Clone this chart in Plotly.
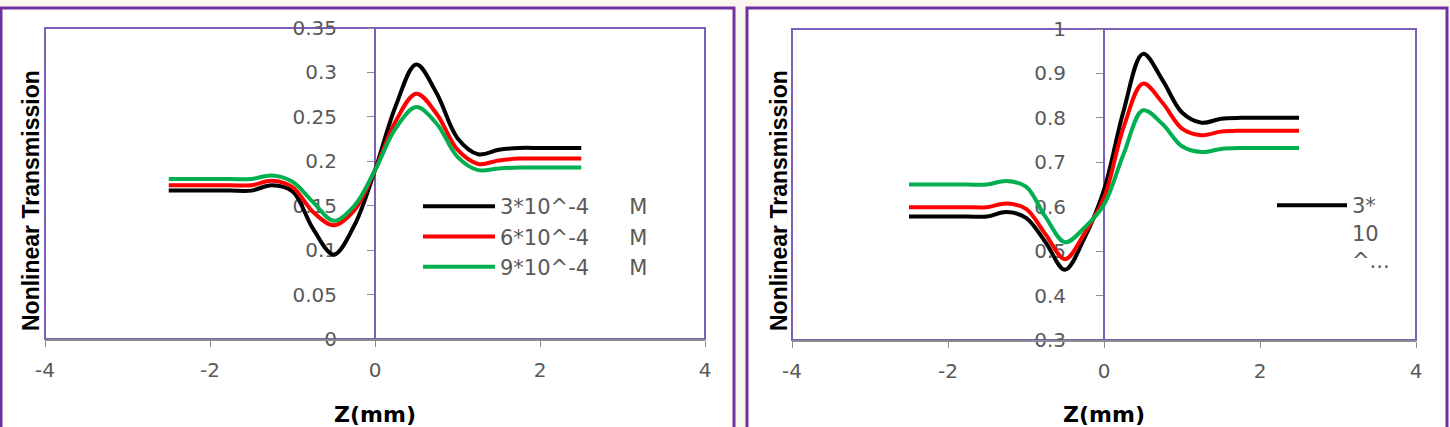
import plotly.graph_objects as go

# ---------------- data ----------------
z = [-2.5, -2.25, -2.0, -1.75, -1.5, -1.25, -1.0, -0.75, -0.5, -0.25, 0.0,
     0.25, 0.5, 0.75, 1.0, 1.25, 1.5, 1.75, 2.0, 2.25, 2.5]

NB = "\u00a0"
series_names = ["3*10^-4" + NB * 6 + "M", "6*10^-4" + NB * 6 + "M", "9*10^-4" + NB * 6 + "M"]
series_colors = ["#000000", "#FF0000", "#00B050"]

# left panel
left_c3 = [0.167, 0.167, 0.167, 0.167, 0.167, 0.173, 0.166, 0.124, 0.095, 0.128, 0.190,
           0.262, 0.309, 0.276, 0.226, 0.208, 0.213, 0.215, 0.215, 0.215, 0.215]
left_c6 = [0.173, 0.173, 0.173, 0.173, 0.173, 0.178, 0.171, 0.143, 0.128, 0.145, 0.190,
           0.245, 0.276, 0.253, 0.213, 0.197, 0.201, 0.203, 0.203, 0.203, 0.203]
left_c9 = [0.180, 0.180, 0.180, 0.180, 0.180, 0.184, 0.177, 0.154, 0.133, 0.150, 0.190,
           0.237, 0.261, 0.242, 0.205, 0.190, 0.192, 0.193, 0.193, 0.193, 0.193]

# right panel
right_c3 = [0.578, 0.578, 0.578, 0.578, 0.578, 0.588, 0.575, 0.520, 0.458, 0.530, 0.638,
            0.815, 0.944, 0.885, 0.812, 0.789, 0.798, 0.800, 0.800, 0.800, 0.800]
right_c6 = [0.599, 0.599, 0.599, 0.599, 0.599, 0.607, 0.595, 0.538, 0.482, 0.540, 0.620,
            0.778, 0.877, 0.834, 0.776, 0.761, 0.769, 0.771, 0.771, 0.771, 0.771]
right_c9 = [0.650, 0.650, 0.650, 0.650, 0.650, 0.658, 0.645, 0.577, 0.520, 0.553, 0.605,
            0.718, 0.817, 0.786, 0.736, 0.723, 0.730, 0.732, 0.732, 0.732, 0.732]

left_ticks_y = [0, 0.05, 0.1, 0.15, 0.2, 0.25, 0.3, 0.35]
right_ticks_y = [0.3, 0.4, 0.5, 0.6, 0.7, 0.8, 0.9, 1]
x_ticks = [-4, -2, 0, 2, 4]
x_tick_text = ["-4", "-2", "0", "2", "4"]

# ---------------- figure ----------------
W, H = 1450, 427
fig = go.Figure()

TICK_FONT = dict(family="DejaVu Sans", size=20, color="#595959")
LEG_FONT = dict(family="DejaVu Sans", size=21, color="#595959")
PURPLE_OUT = "#7030A0"
PURPLE_IN = "#7B5FB8"
GRAY = "#8C8C8C"

for i, ys in enumerate([left_c3, left_c6, left_c9]):
    fig.add_trace(go.Scatter(
        x=z, y=ys, mode="lines", name=series_names[i],
        line=dict(color=series_colors[i], width=4, shape="spline", smoothing=1.0),
        xaxis="x", yaxis="y", legend="legend", legendgroup="L%d" % i,
        hoverinfo="skip"))

right_legend_names = ["3*<br>10<br>^...", "6*10^-4 M", "9*10^-4 M"]
for i, ys in enumerate([right_c3, right_c6, right_c9]):
    fig.add_trace(go.Scatter(
        x=z, y=ys, mode="lines", name=right_legend_names[i],
        line=dict(color=series_colors[i], width=4, shape="spline", smoothing=1.0),
        xaxis="x2", yaxis="y2", legend="legend2", showlegend=(i == 0),
        hoverinfo="skip"))

def px_x(p):
    return p / W

def px_y(p):
    return 1 - p / H

# subplot geometry (pixels)
L_x0, L_x1, L_ytop, L_ybot = 45, 705, 28, 339
R_x0, R_x1, R_ytop, R_ybot = 792, 1416, 29, 340

common_x = dict(range=[-4, 4], tickvals=x_ticks, ticktext=x_tick_text,
                showgrid=False, zeroline=False, automargin=False,
                showline=True, linecolor=GRAY, linewidth=2, ticks="outside",
                ticklen=6, tickcolor=GRAY, tickwidth=1, tickfont=TICK_FONT,
                ticklabelstandoff=6,
                title=dict(text="<b>Z(mm)</b>", font=dict(family="DejaVu Sans", size=22,
                                                          color="#000000"), standoff=27))
common_y = dict(showgrid=False, zeroline=False, showline=True, linecolor=PURPLE_IN,
                linewidth=2, ticks="outside", ticklen=7, tickcolor=GRAY, tickwidth=1,
                tickfont=TICK_FONT, anchor="free", layer="below traces",
                automargin=False, ticklabelstandoff=26)

fig.update_layout(
    width=W, height=H,
    margin=dict(l=0, r=0, t=0, b=0, autoexpand=False),
    paper_bgcolor="#FBF6EF",
    plot_bgcolor="rgba(0,0,0,0)",
    xaxis=dict(domain=[px_x(L_x0), px_x(L_x1)], anchor="y", **common_x),
    yaxis=dict(domain=[px_y(L_ybot), px_y(L_ytop)], range=[0, 0.35],
               tickvals=left_ticks_y, position=px_x((L_x0 + L_x1) / 2), **common_y),
    xaxis2=dict(domain=[px_x(R_x0), px_x(R_x1)], anchor="y2", **common_x),
    yaxis2=dict(domain=[px_y(R_ybot), px_y(R_ytop)], range=[0.3, 1],
                tickvals=right_ticks_y, position=px_x((R_x0 + R_x1) / 2), **common_y),
    legend=dict(x=px_x(418), y=px_y(186), xanchor="left", yanchor="top",
                bgcolor="rgba(0,0,0,0)", font=LEG_FONT, itemwidth=72,
                traceorder="grouped", tracegroupgap=0),
    legend2=dict(x=px_x(1272), y=px_y(185), xanchor="left", yanchor="top",
                 bgcolor="rgba(0,0,0,0)", font=LEG_FONT, itemwidth=70, valign="top"),
    showlegend=True,
)

shapes = []
# outer panel frames
shapes.append(dict(type="rect", xref="paper", yref="paper",
                   x0=px_x(1), x1=px_x(734), y0=px_y(440), y1=px_y(8),
                   line=dict(color=PURPLE_OUT, width=3), fillcolor="#FFFFFF", layer="below"))
shapes.append(dict(type="rect", xref="paper", yref="paper",
                   x0=px_x(747), x1=px_x(1447), y0=px_y(440), y1=px_y(8),
                   line=dict(color=PURPLE_OUT, width=3), fillcolor="#FFFFFF", layer="below"))
# plot-area borders
for xr, yr in [("x domain", "y domain"), ("x2 domain", "y2 domain")]:
    shapes.append(dict(type="rect", xref=xr, yref=yr, x0=0, x1=1, y0=0, y1=1,
                       line=dict(color=PURPLE_IN, width=2), layer="below"))
fig.update_layout(shapes=shapes)

ytitle_font = dict(family="Liberation Sans", size=23, color="#000000")
for xp in (31, 779):
    fig.add_annotation(text="<b>Nonlinear Transmission</b>", textangle=-90,
                       xref="paper", yref="paper", x=px_x(xp), y=px_y(201),
                       xanchor="center", yanchor="middle",
                       showarrow=False, font=ytitle_font)

fig.write_html("out.html")
